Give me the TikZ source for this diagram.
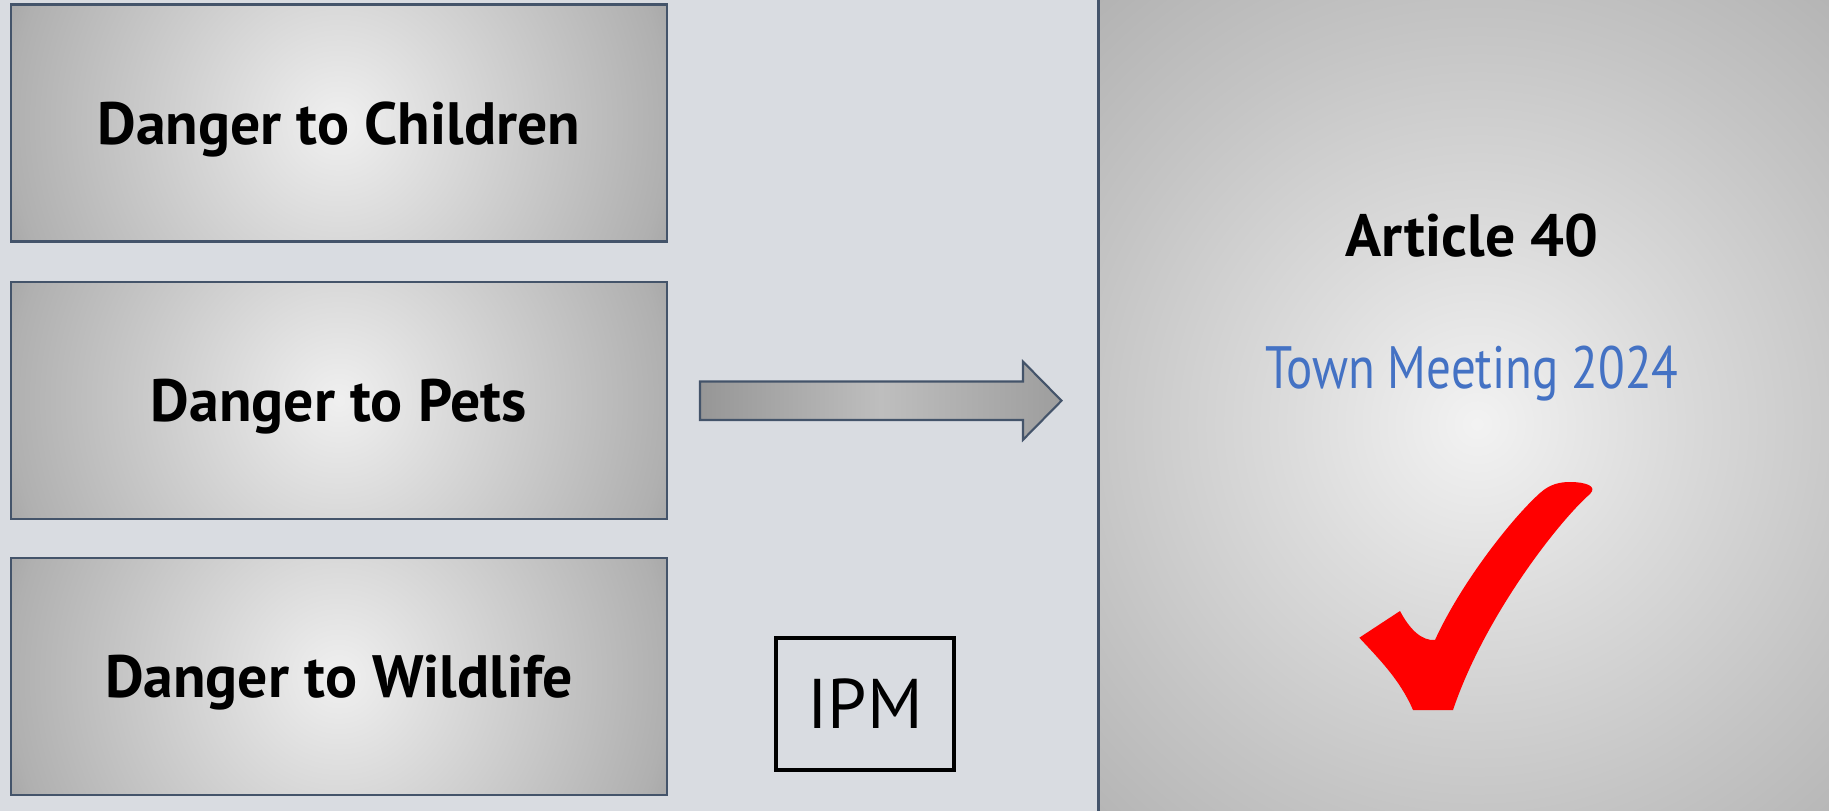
\documentclass[tikz,border=0pt]{standalone}
\usepackage{fontspec}
\setmainfont{PT Sans}
\newfontfamily\narrowsans[FakeStretch=0.82]{PT Sans}
\usetikzlibrary{positioning}

\definecolor{slide}{RGB}{217,220,225}
\definecolor{frameedge}{RGB}{68,84,106}
\definecolor{arrowdark}{RGB}{110,110,110}
\definecolor{arrowlight}{RGB}{190,190,190}
\definecolor{meetblue}{RGB}{68,114,196}

\pgfdeclareradialshading{boxglow}{\pgfpoint{0bp}{0bp}}{rgb(0bp)=(0.94,0.94,0.94); rgb(4.2bp)=(0.85,0.85,0.85);
  rgb(11.7bp)=(0.69,0.69,0.69); rgb(12.5bp)=(0.66,0.66,0.66); rgb(50bp)=(0.66,0.66,0.66)}
\pgfdeclareradialshading{panelglow}{\pgfpoint{0bp}{0bp}}{rgb(0bp)=(0.95,0.95,0.95); rgb(4bp)=(0.86,0.86,0.86);
  rgb(8.3bp)=(0.77,0.77,0.77); rgb(12.5bp)=(0.69,0.69,0.69); rgb(50bp)=(0.68,0.68,0.68)}
\pgfdeclarehorizontalshading{arrowglow}{100bp}{color(0bp)=(arrowdark); color(50bp)=(arrowlight); color(100bp)=(arrowdark!90!white)}

\tikzset{
  dangerbox/.style={draw=frameedge, line width=0.6pt, minimum width=65.6mm, minimum height=23.7mm,
    inner sep=0pt, text depth=0pt, font=\fontsize{17}{20}\selectfont\bfseries,
    path picture={\shade[shading=boxglow] (path picture bounding box.center) circle (70mm);}},
  ipmbox/.style={draw=black, line width=0.9pt, minimum width=17.8mm, minimum height=13.2mm,
    inner sep=0pt, font=\fontsize{20}{24}\selectfont},
}

\begin{document}
\begin{tikzpicture}[x=0.1mm, y=-0.1mm]

  % ---------- Slide background ----------
  \fill[slide] (0,0) rectangle (1829,811);
  \useasboundingbox (0,0) rectangle (1829,811);

  % ---------- Dangers (left column) ----------
  \node[dangerbox] (children) at (338.75,123) {Danger to Children};
  \node[dangerbox, below=3.8mm of children] (pets) {Danger to Pets};
  \node[dangerbox, below=3.7mm of pets] (wildlife) {Danger to Wildlife};

  \node[ipmbox] (ipm) at (865,704) {IPM};

  % ---------- Block arrow ----------
  \shade[shading=arrowglow, draw=frameedge, line width=0.6pt]
    (700,381.5) -- (1023,381.5) -- (1023,361.6) -- (1061.5,400.7)
    -- (1023,439.8) -- (1023,420) -- (700,420) -- cycle;

  % ---------- Article panel (right) ----------
  \node[minimum width=73mm, minimum height=81.1mm, inner sep=0pt,
    path picture={\shade[shading=panelglow] ([xshift=1.3mm, yshift=-1.85mm]path picture bounding box.center) circle (120mm);}]
    (panel) at (1464,405.5) {};
  \draw[frameedge, line width=0.7pt] (panel.north west) -- (panel.south west);

  \node[font=\fontsize{17}{20}\selectfont\bfseries] (article) at (1472,236) {Article 40};
  \node[meetblue, font=\fontsize{17}{20}\narrowsans] (meeting) at (1472,374) {Town Meeting 2024};

  % check mark
  \fill[red]
    (1359.3,637.7) -- (1400,611)
    .. controls (1410,630) and (1422,641) .. (1435,640)
    .. controls (1460,585) and (1510,520) .. (1540,493)
    .. controls (1550,484) and (1560,482) .. (1570,482)
    .. controls (1585,482) and (1598,486) .. (1590,494)
    .. controls (1560,520) and (1485,615) .. (1453,710)
    -- (1413,710)
    .. controls (1400,680) and (1380,660) .. cycle;

\end{tikzpicture}
\end{document}
